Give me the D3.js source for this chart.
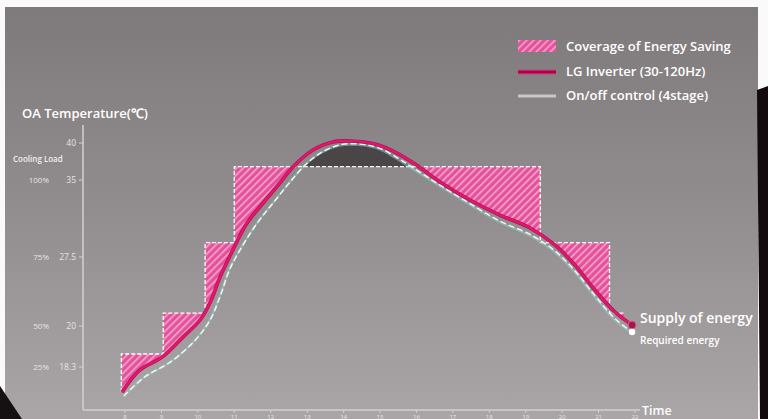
<!DOCTYPE html>
<html><head><meta charset="utf-8">
<script src="https://cdn.jsdelivr.net/npm/d3@7"></script>
<style>
html,body{margin:0;padding:0;background:#fff;overflow:hidden}
svg{display:block;font-family:"Open Sans",sans-serif}
</style></head>
<body><svg id="c" width="768" height="419"></svg>
<script>
// ---- data ----
const hours = [8,9,10,11,12,13,14,15,16,17,18,19,20,21,22];
const tempTicks = [18.3, 20, 27.5, 35, 40];
const tempLabels = ["18.3","20","27.5","35","40"];
const loadLabels = ["25%","50%","75%","100%",""];
// LG inverter (supply of energy) : time, OA temperature
const lgTime = [7.92,8.41,9.02,9.59,10.06,10.33,10.61,10.96,11.35,11.79,12.25,12.61,13.16,13.71,14.18,14.86,15.41,15.96,16.65,17.47,18.29,19.12,19.8,20.35,20.9,21.45,21.92];
const lgTemp = [17.26,18.18,18.71,19.54,20.65,22.5,25.33,28.18,30.81,32.76,34.71,36.76,39.05,40.14,40.27,39.86,38.78,37.16,34.81,33.05,31.59,30.32,28.67,26.63,23.91,21.52,20.11];
// On/off control (required energy)
const onoffTime = [7.97,8.55,9.24,9.92,10.33,10.61,10.88,11.21,11.65,12.12,12.53,12.94,13.35,13.9,14.45,14.99,15.54,15.87,16.65,17.47,18.29,19.12,19.8,20.35,20.9,21.45,21.92];
const onoffTemp = [17.1,17.9,18.5,19.4,20.6,23.2,26.2,28.5,30.9,33.0,34.8,37.0,38.6,39.75,39.85,39.3,37.8,36.76,34.5,32.7,31.0,29.7,28.1,26.0,23.3,20.8,19.75];
// 4-stage steps: start time, level
const stepTime = [7.9, 9.05, 10.2, 11.0, 19.4, 21.3, 21.7];
const stepTemp = [18.84, 21.4, 28.9, 36.8, 28.9, 21.4, 21.4];

const legendLabels = ["Coverage of Energy Saving","LG Inverter (30-120Hz)","On/off control (4stage)"];

// ---- setup ----
const svg = d3.select("#c");
const W = 768, H = 419;
const x = d3.scaleLinear().domain([8,22]).range([125,635]);
const y = d3.scaleLinear().domain([16.52,18.3,20,27.5,35,40]).range([410,367,326,257,180,143]);

const defs = svg.append("defs");
const bg = defs.append("linearGradient").attr("id","bg").attr("x1",0).attr("y1",0).attr("x2",0).attr("y2",1);
bg.append("stop").attr("offset","0%").attr("stop-color","#7e797a");
bg.append("stop").attr("offset","50%").attr("stop-color","#928d8e");
bg.append("stop").attr("offset","100%").attr("stop-color","#aaa6a7");

const pat = defs.append("pattern").attr("id","hatch").attr("patternUnits","userSpaceOnUse")
  .attr("width",5).attr("height",5).attr("patternTransform","rotate(45)");
pat.append("rect").attr("width",5).attr("height",5).attr("fill","#e4529a");
pat.append("rect").attr("width",1.6).attr("height",5).attr("fill","#f6a6cf");

// background
svg.append("rect").attr("width",W).attr("height",H).attr("fill","#fbfafa");
svg.append("rect").attr("x",5).attr("y",7).attr("width",753).attr("height",H-7).attr("fill","url(#bg)");
svg.append("path").attr("d","M757,90 L768,86 L768,419 L760,419 Z").attr("fill","#120a0c");
svg.append("path").attr("d","M0,386 L22,419 L0,419 Z").attr("fill","#151012");

const lgPts = lgTime.map((t,i)=>[t,lgTemp[i]]);
const ooPts = onoffTime.map((t,i)=>[t,onoffTemp[i]]);
const stPts = stepTime.map((t,i)=>[t,stepTemp[i]]);
const cv = d3.curveCatmullRom.alpha(0.5);

// clip: above LG curve
defs.append("clipPath").attr("id","aboveLG").append("path")
  .attr("d", d3.area().curve(cv).x(d=>x(d[0])).y0(0).y1(d=>y(d[1]))(lgPts));
// clip: above step line
defs.append("clipPath").attr("id","aboveStep").append("path")
  .attr("d", d3.area().curve(d3.curveStepAfter).x(d=>x(d[0])).y0(0).y1(d=>y(d[1]))(stPts));

// pink hatched saving area: below step, above LG
svg.append("path")
  .attr("d", d3.area().curve(d3.curveStepAfter).x(d=>x(d[0])).y0(H).y1(d=>y(d[1]))(stPts))
  .attr("fill","url(#hatch)").attr("clip-path","url(#aboveLG)");
// dark area: above step, below on/off
svg.append("path")
  .attr("d", d3.area().curve(cv).x(d=>x(d[0])).y0(H).y1(d=>y(d[1]))(ooPts))
  .attr("fill","#4a4547").attr("clip-path","url(#aboveStep)");

// step outline
const stepLine = d3.line().curve(d3.curveStepAfter).x(d=>x(d[0])).y(d=>y(d[1]));
svg.append("path")
  .attr("d", `M${x(stepTime[0])},${y(lgTemp[0])}L` + stepLine(stPts).slice(1))
  .attr("fill","none").attr("stroke","#fff").attr("stroke-width",1.3).attr("stroke-dasharray","4,2");

// axes
const axisCol = "#d4d0d1";
svg.append("line").attr("x1",83).attr("x2",83).attr("y1",125).attr("y2",410).attr("stroke",axisCol).attr("stroke-width",1.5);
svg.append("line").attr("x1",83).attr("x2",640).attr("y1",410).attr("y2",410).attr("stroke",axisCol).attr("stroke-width",1.5);

const yAx = svg.append("g");
tempTicks.forEach((v,i)=>{
  yAx.append("line").attr("x1",79).attr("x2",83).attr("y1",y(v)).attr("y2",y(v)).attr("stroke",axisCol);
  yAx.append("text").attr("x",76).attr("y",y(v)+3).attr("text-anchor","end")
    .attr("font-size",8.5).attr("fill","#e8e4e5").text(tempLabels[i]);
  yAx.append("text").attr("x",49).attr("y",y(v)+3).attr("text-anchor","end")
    .attr("font-size",8).attr("fill","#e8e4e5").text(loadLabels[i]);
});
svg.append("text").attr("x",13).attr("y",162).attr("font-size",8).attr("font-weight",600).attr("fill","#f2eeef").text("Cooling Load");
svg.append("text").attr("x",22).attr("y",118).attr("font-size",13).attr("font-weight",600).attr("fill","#fff").text("OA Temperature(℃)");

const xAx = svg.append("g");
hours.forEach(h=>{
  xAx.append("line").attr("x1",x(h)).attr("x2",x(h)).attr("y1",410).attr("y2",413).attr("stroke",axisCol);
  xAx.append("text").attr("x",x(h)).attr("y",418.5).attr("text-anchor","middle")
    .attr("font-size",6).attr("fill","#e8e4e5").text(h);
});
svg.append("text").attr("x",642).attr("y",415).attr("font-size",12.5).attr("font-weight",600).attr("fill","#fff").text("Time");

// on/off curve (dashed white with teal shade)
const lineG = d3.line().curve(cv).x(d=>x(d[0])).y(d=>y(d[1]));
svg.append("path").attr("d",lineG(ooPts)).attr("fill","none").attr("stroke","#8ccfcc").attr("stroke-width",2.2).attr("opacity",0.55)
  .attr("transform","translate(-0.8,0.8)");
svg.append("path").attr("d",lineG(ooPts)).attr("fill","none").attr("stroke","#f4f2f3").attr("stroke-width",1.5).attr("stroke-dasharray","6,3");

// LG curve
svg.append("path").attr("d",lineG(lgPts)).attr("fill","none").attr("stroke","#b3104f").attr("stroke-width",3.6);
svg.append("path").attr("d",lineG(lgPts)).attr("fill","none").attr("stroke","#e2186f").attr("stroke-width",2.2);

// end markers
const lgEnd = lgPts[lgPts.length-1], ooEnd = ooPts[ooPts.length-1];
svg.append("circle").attr("cx",x(lgEnd[0])).attr("cy",y(lgEnd[1])).attr("r",4).attr("fill","#9e1a4c").attr("stroke","#e0608f").attr("stroke-width",1);
svg.append("circle").attr("cx",x(ooEnd[0])).attr("cy",y(ooEnd[1])).attr("r",3.2).attr("fill","#fff");
svg.append("text").attr("x",640).attr("y",323).attr("font-size",14).attr("font-weight",600).attr("fill","#fff").text("Supply of energy");
svg.append("text").attr("x",640).attr("y",344).attr("font-size",10).attr("font-weight",600).attr("fill","#fff").text("Required energy");

// legend
const lg = svg.append("g");
lg.append("rect").attr("x",518).attr("y",40).attr("width",38).attr("height",12).attr("fill","url(#hatch)");
lg.append("line").attr("x1",518).attr("x2",556).attr("y1",72).attr("y2",72).attr("stroke","#e2186f").attr("stroke-width",4.5);
lg.append("line").attr("x1",518).attr("x2",556).attr("y1",72).attr("y2",72).attr("stroke","#8e0f42").attr("stroke-width",2);
lg.append("line").attr("x1",518).attr("x2",556).attr("y1",96).attr("y2",96).attr("stroke","#c9c6c7").attr("stroke-width",3);
legendLabels.forEach((t,i)=>{
  lg.append("text").attr("x",566).attr("y",51+i*24.5).attr("font-size",13).attr("font-weight",600).attr("fill","#fff").text(t);
});
</script></body></html>
